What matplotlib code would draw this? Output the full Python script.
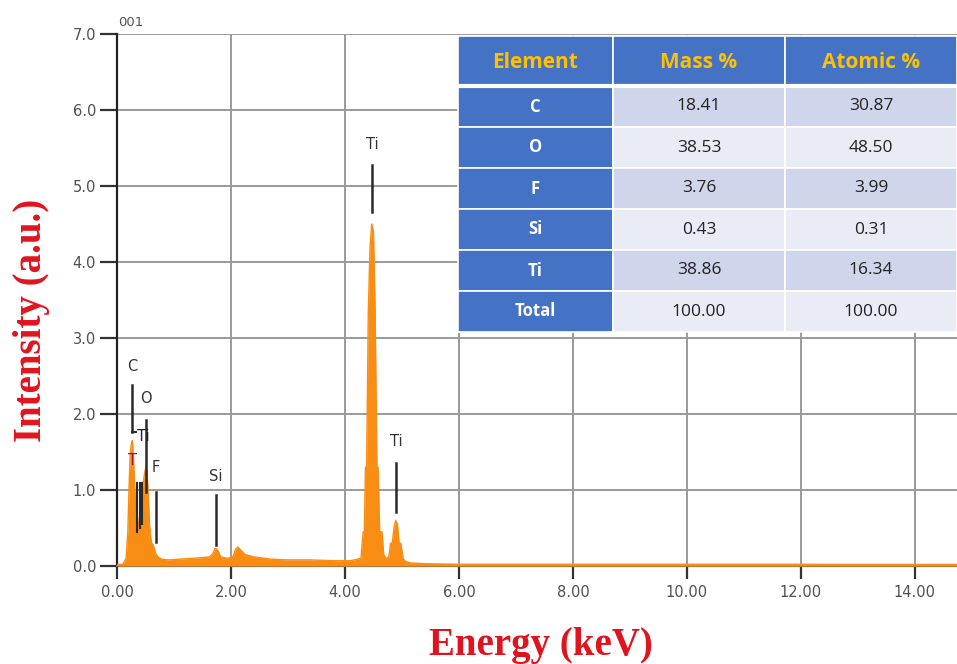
import matplotlib
matplotlib.use("Agg")
import matplotlib.pyplot as plt
from matplotlib.patches import Rectangle

plt.rcParams["font.family"] = ["DejaVu Sans"]

# ---------------- data ----------------
energy_keV = [0.00, 0.10, 0.16, 0.19, 0.21, 0.23, 0.25, 0.27, 0.29, 0.31, 0.33, 0.35,
              0.37, 0.39, 0.41, 0.43, 0.45, 0.47, 0.49, 0.51, 0.53, 0.55, 0.57, 0.59,
              0.61, 0.63, 0.65, 0.68, 0.72, 0.78, 0.90, 1.10, 1.30, 1.50, 1.62, 1.68,
              1.72, 1.76, 1.82, 1.95, 2.04, 2.08, 2.12, 2.17, 2.25, 2.40, 2.70, 3.00,
              3.40, 3.80, 4.10, 4.28, 4.32, 4.34, 4.36, 4.38, 4.41, 4.44, 4.47, 4.50,
              4.53, 4.56, 4.58, 4.61, 4.65, 4.68, 4.72, 4.77, 4.80, 4.83, 4.86, 4.89,
              4.92, 4.95, 4.98, 5.02, 5.06, 5.15, 5.40, 6.00, 8.00, 10.00, 12.00, 14.74]
intensity = [0.00, 0.02, 0.10, 0.45, 1.00, 1.45, 1.60, 1.65, 1.40, 1.05, 0.75, 0.55,
             0.50, 0.62, 0.75, 0.95, 1.05, 1.15, 1.25, 1.30, 1.22, 0.90, 0.55, 0.38,
             0.30, 0.28, 0.24, 0.16, 0.12, 0.09, 0.08, 0.09, 0.10, 0.11, 0.12, 0.16,
             0.23, 0.22, 0.12, 0.10, 0.13, 0.22, 0.25, 0.21, 0.15, 0.12, 0.09, 0.08,
             0.08, 0.07, 0.07, 0.10, 0.45, 0.45, 1.30, 1.30, 3.35, 4.20, 4.50, 4.40,
             3.35, 1.30, 1.30, 0.45, 0.45, 0.15, 0.10, 0.12, 0.30, 0.30, 0.50, 0.60,
             0.55, 0.30, 0.30, 0.10, 0.06, 0.04, 0.03, 0.02, 0.02, 0.02, 0.02, 0.01]

# peak markers: (label, energy, label_y, line_top, line_bottom, colour)
marker_labels = ["C", "O", "Ti", "T", "F", "Si", "Ti", "Ti"]
marker_energy = [0.26, 0.51, 0.46, 0.28, 0.68, 1.74, 4.48, 4.90]
marker_label_y = [2.62, 2.20, 1.70, 1.39, 1.29, 1.18, 5.54, 1.64]
marker_line_top = [2.38, 1.92, None, None, 0.97, 0.93, 5.28, 1.36]
marker_line_bottom = [1.76, 0.98, None, None, 0.32, 0.28, 4.66, 0.71]
marker_colors = ["#333333", "#333333", "#1a1a5a", "#b01010", "#333333", "#333333", "#333333", "#333333"]
extra_line_energy = [0.35, 0.40, 0.44]
extra_line_top = [1.09, 1.09, 1.09]
extra_line_bottom = [0.45, 0.50, 0.55]

# table
table_columns = ["Element", "Mass %", "Atomic %"]
table_elements = ["C", "O", "F", "Si", "Ti", "Total"]
table_mass = ["18.41", "38.53", "3.76", "0.43", "38.86", "100.00"]
table_atomic = ["30.87", "48.50", "3.99", "0.31", "16.34", "100.00"]

x_ticks = [0, 2, 4, 6, 8, 10, 12, 14]
y_ticks = [0, 1, 2, 3, 4, 5, 6, 7]

# ---------------- figure ----------------
W, H = 957, 664
fig = plt.figure(figsize=(W / 100, H / 100), dpi=100)

def fx(px):
    return px / W

def fy(py):
    return 1 - py / H

ax = fig.add_axes([fx(117), fy(566), fx(957) - fx(117), fy(34) - fy(566)])
ax.set_xlim(0, 14.74)
ax.set_ylim(0, 7)

orange = "#F98C12"
ax.fill_between(energy_keV, intensity, 0, color=orange, linewidth=0, zorder=3)
ax.plot(energy_keV, intensity, color=orange, linewidth=1.0, zorder=3)
ax.axhline(0.01, color=orange, linewidth=2.5, zorder=3)

ax.set_xticks(x_ticks)
ax.set_xticklabels([f"{v:.2f}" for v in x_ticks])
ax.set_yticks(y_ticks)
ax.set_yticklabels([f"{v:.1f}" for v in y_ticks])
ax.grid(True, color="#9a9a9a", linewidth=1.4, zorder=0)
ax.set_axisbelow(True)
for s in ["top", "right"]:
    ax.spines[s].set_visible(False)
ax.spines["left"].set_linewidth(1.6)
ax.spines["left"].set_color("#222222")
ax.spines["bottom"].set_linewidth(1.6)
ax.spines["bottom"].set_color("#666666")
ax.tick_params(axis="x", direction="out", length=9, width=1.6, color="#333333",
               labelsize=10.5, labelcolor="#505050", pad=5)
ax.tick_params(axis="y", direction="out", length=12, width=1.6, color="#333333",
               labelsize=10.5, labelcolor="#505050", pad=3)

# markers
for lab, e, ly, lt, lb, c in zip(marker_labels, marker_energy, marker_label_y,
                                  marker_line_top, marker_line_bottom, marker_colors):
    ax.text(e, ly, lab, ha="center", va="center", fontsize=10.5, color=c, zorder=5)
    if lt is not None:
        ax.plot([e, e], [lb, lt], color="#2a2a2a", linewidth=1.8, zorder=4)
for e, t, b in zip(extra_line_energy, extra_line_top, extra_line_bottom):
    ax.plot([e, e], [b, t], color="#2a2a2a", linewidth=1.5, zorder=4)
ax.plot([0.26, 0.34], [1.76, 1.76], color="#2a2a2a", linewidth=1.5, zorder=4)

fig.text(fx(131), fy(22), "001", ha="center", va="center", fontsize=9.5,
         color="#555555")

# axis titles
red = "#E0141E"
fig.text(fx(541), fy(645), "Energy (keV)", ha="center", va="center", fontsize=28,
         fontweight="bold", color=red, family="Liberation Serif")
fig.text(fx(32), fy(320), "Intensity (a.u.)", ha="center", va="center", fontsize=28,
         fontweight="bold", color=red, family="Liberation Serif", rotation=90)

# ---------------- table ----------------
tax = fig.add_axes([0, 0, 1, 1], facecolor="none")
tax.set_xlim(0, W)
tax.set_ylim(H, 0)
tax.axis("off")

col_edges = [458, 613, 785, 957]
row_edges = [36, 86, 127, 168, 209, 250, 291, 332]
blue = "#4472C4"
gold = "#FFC000"
alt = ["#CFD5EA", "#E9EBF5"]

for ci, name in enumerate(table_columns):
    x0, x1 = col_edges[ci], col_edges[ci + 1]
    y0, y1 = row_edges[0], row_edges[1]
    tax.add_patch(Rectangle((x0, y0), x1 - x0, y1 - y0, facecolor=blue,
                            edgecolor="white", linewidth=1.2, zorder=6))
    tax.text((x0 + x1) / 2, (y0 + y1) / 2 + 1, name, ha="center", va="center",
             fontsize=15, fontweight="bold", color=gold, family="Open Sans", zorder=7)
tax.plot([col_edges[0], col_edges[-1]], [row_edges[1], row_edges[1]], color="white",
         linewidth=3, zorder=8)

for ri in range(len(table_elements)):
    y0, y1 = row_edges[ri + 1], row_edges[ri + 2]
    cells = [table_elements[ri], table_mass[ri], table_atomic[ri]]
    for ci, val in enumerate(cells):
        x0, x1 = col_edges[ci], col_edges[ci + 1]
        fc = blue if ci == 0 else alt[ri % 2]
        tax.add_patch(Rectangle((x0, y0), x1 - x0, y1 - y0, facecolor=fc,
                                edgecolor="white", linewidth=1.2, zorder=6))
        if ci == 0:
            tax.text((x0 + x1) / 2, (y0 + y1) / 2, val, ha="center", va="center",
                     fontsize=12, fontweight="bold", color="white", family="Open Sans",
                     zorder=7)
        else:
            tax.text((x0 + x1) / 2, (y0 + y1) / 2, val, ha="center", va="center",
                     fontsize=12.5, color="#222222", family="Open Sans", zorder=7)

fig.savefig("out.png", dpi=100)
